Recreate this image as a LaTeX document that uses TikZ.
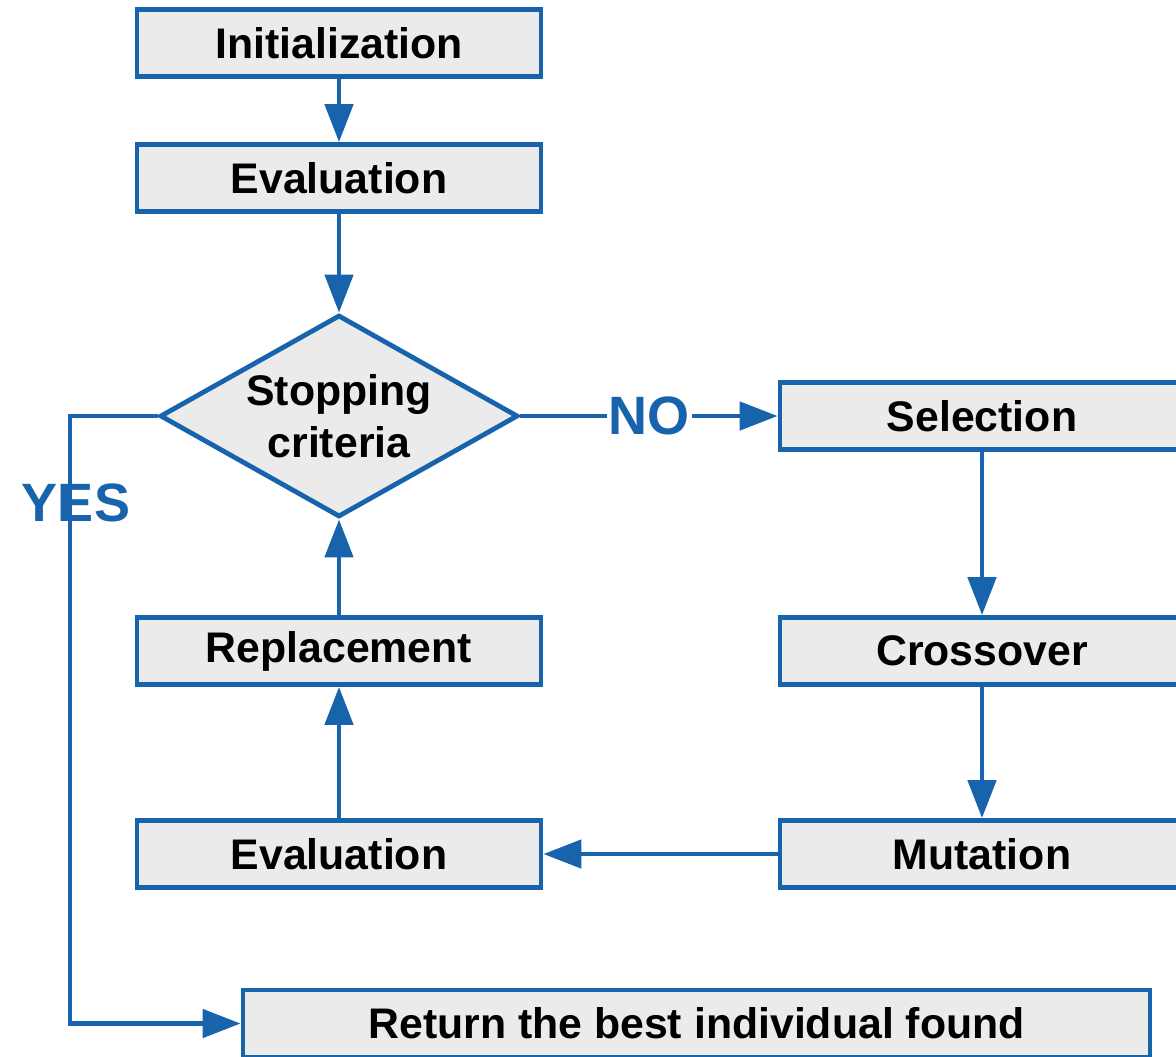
\documentclass[tikz,border=0pt]{standalone}
\usepackage{fontspec}
\setmainfont{Liberation Sans}
\usepackage{xcolor}
\usepackage{tikz}
\usetikzlibrary{arrows.meta,shapes.geometric}

\definecolor{flowblue}{HTML}{1763AC}
\definecolor{boxgray}{HTML}{EBEBEB}

\begin{document}
\begin{tikzpicture}[x=0.5pt,y=-0.5pt,
  box/.style={draw=flowblue,fill=boxgray,line width=2.4pt,minimum width=202pt,minimum height=33.5pt,inner sep=0pt,font=\fontsize{21.4}{26}\selectfont\bfseries},
  decision/.style={diamond,aspect=1.77,draw=flowblue,fill=boxgray,line width=2.4pt,minimum width=179pt,minimum height=101pt,inner sep=0pt,align=center,font=\fontsize{21.4}{26}\selectfont\bfseries},
  flow/.style={draw=flowblue,line width=2.4pt,-{Triangle[length=19pt,width=14pt]}},
  answer/.style={text=flowblue,font=\fontsize{27}{30}\selectfont\bfseries}]
\useasboundingbox (0,0) rectangle (1176,1056);
\clip (0,0) rectangle (1176,1056);
% left column
\node[box] (init) at (339,43) {Initialization};
\node[box] (eval1) at (339,178) {Evaluation};
\node[decision] (stop) at (339,416) {Stopping\\criteria};
\node[box] (repl) at (339,651) {Replacement};
\node[box] (eval2) at (339,854) {Evaluation};
% right column
\node[box] (sel) at (982,416) {Selection};
\node[box] (cross) at (982,651) {Crossover};
\node[box] (mut) at (982,854) {Mutation};
\node[box,minimum width=453.5pt] (ret) at (696.5,1023.5) {Return the best individual found};
\coordinate (yescorner) at (70,416);

\draw[flow] (init) -- (eval1);
\draw[flow] (eval1) -- (stop);
\draw[flow] (stop) -- node[answer,fill=white,inner sep=1pt] (no) {NO} (sel);
\draw[flow] (sel) -- (cross);
\draw[flow] (cross) -- (mut);
\draw[flow] (mut) -- (eval2);
\draw[flow] (eval2) -- (repl);
\draw[flow] (repl) -- (stop);
\draw[flow] (stop.west) -- (yescorner) |- (ret.west);
\node[answer] (yes) at (76,503) {YES};
\end{tikzpicture}
\end{document}
